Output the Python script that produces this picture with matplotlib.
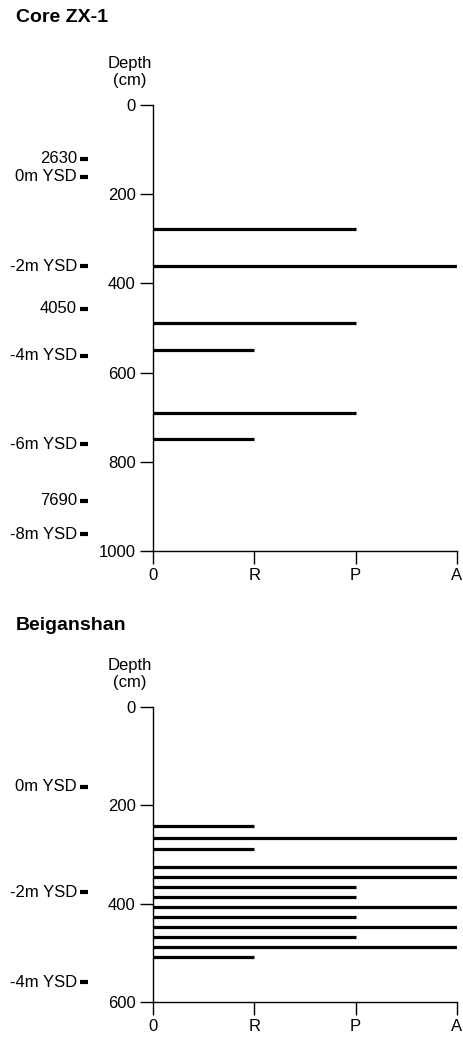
import matplotlib
matplotlib.use("Agg")
import matplotlib.pyplot as plt
from matplotlib.transforms import blended_transform_factory

plt.rcParams["font.family"] = ["Liberation Sans", "DejaVu Sans"]

# ─── Data ───
levels = ["0", "R", "P", "A"]
level_x = {k: i for i, k in enumerate(levels)}

zx_depth = [278, 360, 488, 549, 690, 748]
zx_level = ["P", "A", "P", "R", "P", "R"]
zx_marker_labels = ["2630", "0m YSD", "-2m YSD", "4050", "-4m YSD", "-6m YSD", "7690", "-8m YSD"]
zx_marker_depth = [121, 161, 361, 457, 562, 761, 887, 963]
zx_yticks = [0, 200, 400, 600, 800, 1000]

bg_depth = [243, 266, 289, 325, 345, 366, 387, 407, 427, 447, 468, 488, 508]
bg_level = ["R", "A", "R", "A", "A", "P", "P", "A", "P", "A", "P", "A", "R"]
bg_marker_labels = ["0m YSD", "-2m YSD", "-4m YSD"]
bg_marker_depth = [162, 377, 560]
bg_yticks = [0, 200, 400, 600]

W, H = 463, 1038
fig = plt.figure(figsize=(W / 100, H / 100), dpi=100)

def panel(rect, title, title_y, depth, level, mlabels, mdepth, yticks):
    ax = fig.add_axes(rect)
    xs = [level_x[v] for v in level]
    ax.hlines(depth, 0, xs, color="black", linewidth=2.3)
    ax.set_xlim(0, 3)
    ax.set_ylim(yticks[-1], yticks[0])
    ax.set_xticks(range(len(levels)))
    ax.set_xticklabels(levels)
    ax.set_yticks(yticks)
    for s in ["top", "right"]:
        ax.spines[s].set_visible(False)
    for s in ["left", "bottom"]:
        ax.spines[s].set_linewidth(1.0)
    ax.tick_params(direction="out", length=9.4, width=1.0, labelsize=12, pad=3)
    ax.annotate("Depth\n(cm)", xy=(0, 1), xycoords="axes fraction", xytext=(-16.5, 24),
                textcoords="offset points", ha="center", va="center", fontsize=12,
                linespacing=1.15)
    tr = blended_transform_factory(fig.transFigure, ax.transData)
    for lab, d in zip(mlabels, mdepth):
        ax.text(77 / W, d, lab, transform=tr, ha="right", va="center", fontsize=12)
        ax.plot([84 / W], [d], transform=tr, marker="_", markersize=5.5,
                markeredgewidth=3, color="black", clip_on=False)
    fig.text(16 / W, 1 - title_y / H, title, ha="left", va="center",
             fontsize=14, fontweight="bold")
    return ax

panel([153 / W, 1 - 551 / H, 304 / W, 446 / H], "Core ZX-1", 18,
      zx_depth, zx_level, zx_marker_labels, zx_marker_depth, zx_yticks)
panel([153 / W, 1 - 1002 / H, 304 / W, 295 / H], "Beiganshan", 625,
      bg_depth, bg_level, bg_marker_labels, bg_marker_depth, bg_yticks)

plt.savefig("out.png", dpi=100)
plt.close()
